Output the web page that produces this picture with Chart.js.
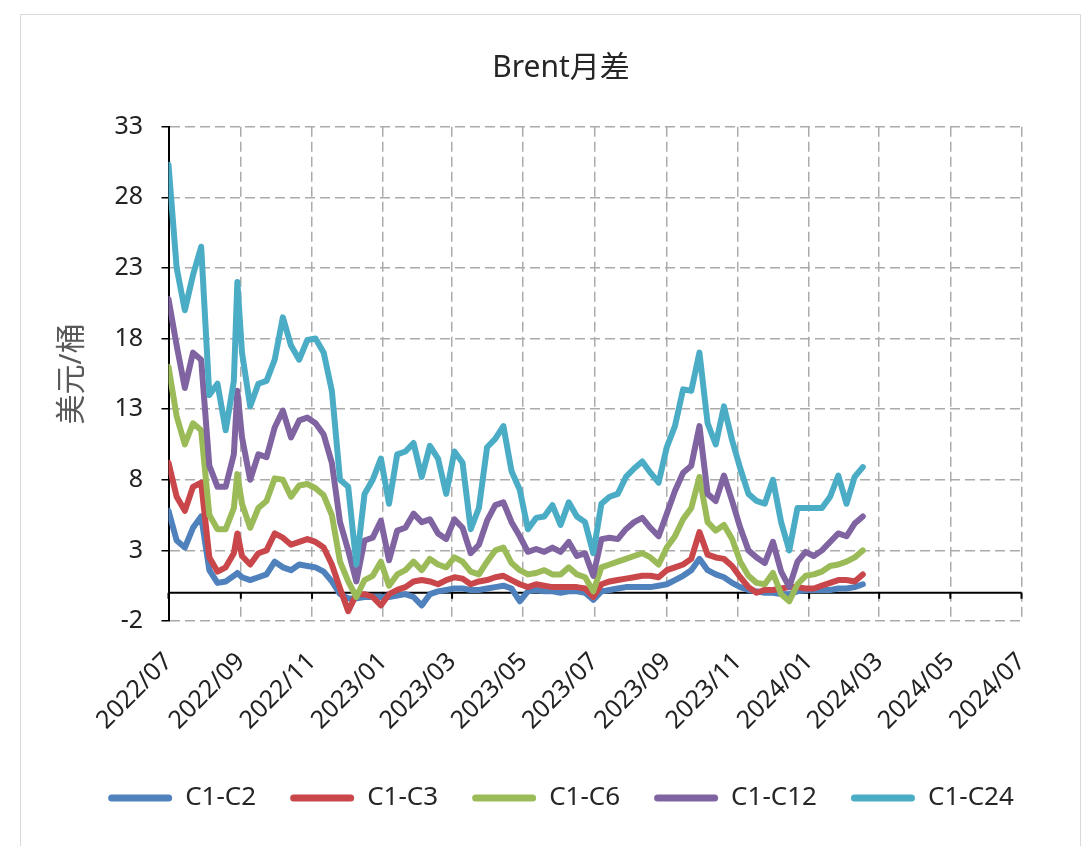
<!DOCTYPE html>
<html>
<head>
<meta charset="utf-8">
<script src="https://cdn.jsdelivr.net/npm/chart.js@4.4.1/dist/chart.umd.min.js"></script>
<style>
    html, body { margin: 0; padding: 0; background: #fff; }
    #frame {
        position: absolute; left: 20px; top: 14px; width: 1059px; height: 840px;
        border: 1px solid #d9d9d9;
    }
    #spreadChart { position: absolute; left: 0; top: 0; }
</style>
</head>
<body>
<div id="frame"></div>
<canvas id="spreadChart" width="1089" height="846"></canvas>
<script>

// =======================
// Data (weekly readings)
// =======================

const tickLabels = [
    "2022/07","2022/09","2022/11","2023/01","2023/03","2023/05","2023/07",
    "2023/09","2023/11","2024/01","2024/03","2024/05","2024/07"
];

const yTickValues = [-2, 3, 8, 13, 18, 23, 28, 33];

const seriesNames = ["C1-C2", "C1-C3", "C1-C6", "C1-C12", "C1-C24"];

const seriesColors = ["#4f81bd", "#c9474a", "#9bbb59", "#8064a2", "#4bacc6"];

const dates = [
    "2022-07-01","2022-07-08","2022-07-15","2022-07-22","2022-07-29",
    "2022-08-05","2022-08-12","2022-08-19","2022-08-26","2022-08-29",
    "2022-09-02","2022-09-09","2022-09-16","2022-09-23","2022-09-30",
    "2022-10-07","2022-10-14","2022-10-21","2022-10-28",
    "2022-11-04","2022-11-11","2022-11-18","2022-11-25",
    "2022-12-02","2022-12-09","2022-12-16","2022-12-23","2022-12-30",
    "2023-01-06","2023-01-13","2023-01-20","2023-01-27",
    "2023-02-03","2023-02-10","2023-02-17","2023-02-24",
    "2023-03-03","2023-03-10","2023-03-17","2023-03-24","2023-03-31",
    "2023-04-07","2023-04-14","2023-04-21","2023-04-28",
    "2023-05-05","2023-05-12","2023-05-19","2023-05-26",
    "2023-06-02","2023-06-09","2023-06-16","2023-06-23","2023-06-30",
    "2023-07-07","2023-07-14","2023-07-21","2023-07-28",
    "2023-08-04","2023-08-11","2023-08-18","2023-08-25",
    "2023-09-01","2023-09-08","2023-09-15","2023-09-22","2023-09-29",
    "2023-10-06","2023-10-13","2023-10-20","2023-10-27",
    "2023-11-03","2023-11-10","2023-11-17","2023-11-24",
    "2023-12-01","2023-12-08","2023-12-15","2023-12-22","2023-12-29",
    "2024-01-05","2024-01-12","2024-01-19","2024-01-26",
    "2024-02-02","2024-02-09","2024-02-16"
];

const c1c2 = [
    5.8,3.7,3.2,4.6,5.4, 1.6,0.7,0.8,1.2,1.4,
    1.1,0.9,1.1,1.3,2.2, 1.8,1.6,2.0,1.9,
    1.8,1.5,0.8,-0.1, -0.4,-0.4,-0.3,-0.3,-0.3,
    -0.3,-0.2,-0.1,-0.3, -0.9,-0.1,0.1,0.2,
    0.3,0.3,0.2,0.2,0.3, 0.4,0.5,0.3,-0.6,
    0.1,0.2,0.1,0.1, 0.0,0.1,0.1,0.0,-0.5,
    0.1,0.2,0.3,0.4, 0.4,0.4,0.4,0.5,
    0.6,0.9,1.2,1.6,2.4, 1.6,1.3,1.1,0.7,
    0.4,0.2,0.1,0.0, 0.0,-0.1,-0.1,0.1,0.2,
    0.2,0.2,0.2,0.3, 0.3,0.4,0.6
];

const c1c3 = [
    9.2,6.8,5.8,7.5,7.8, 2.5,1.5,1.8,2.8,4.2,
    2.6,2.0,2.8,3.0,4.2, 3.9,3.4,3.6,3.8,
    3.6,3.2,2.0,0.3, -1.3,-0.1,-0.1,-0.3,-0.9,
    -0.1,0.2,0.4,0.8, 0.9,0.8,0.6,0.9,
    1.1,1.0,0.6,0.8,0.9, 1.1,1.2,0.9,0.6,
    0.4,0.6,0.5,0.4, 0.4,0.4,0.4,0.3,-0.3,
    0.6,0.8,0.9,1.0, 1.1,1.2,1.2,1.1,
    1.6,1.8,2.0,2.4,4.3, 2.7,2.5,2.4,1.9,
    1.1,0.4,0.0,0.2, 0.2,0.3,0.4,0.4,0.3,
    0.3,0.5,0.7,0.9, 0.9,0.8,1.3
];

const c1c6 = [
    16.0,12.5,10.5,12.0,11.5, 5.5,4.5,4.5,6.0,8.4,
    6.3,4.6,6.0,6.5,8.1, 8.0,6.8,7.6,7.7,
    7.4,6.9,5.5,2.2, 0.8,-0.3,0.9,1.2,2.2,
    0.5,1.3,1.6,2.2, 1.6,2.4,2.0,1.8,
    2.5,2.2,1.5,1.3,2.2, 3.0,3.2,2.1,1.6,
    1.3,1.4,1.6,1.3, 1.3,1.8,1.3,1.1,0.1,
    1.8,2.0,2.2,2.4, 2.6,2.8,2.5,2.0,
    3.2,4.0,5.2,6.0,8.2, 5.0,4.4,4.8,3.8,
    2.2,1.2,0.7,0.6, 1.4,-0.1,-0.6,0.6,1.2,
    1.3,1.5,1.9,2.0, 2.2,2.5,3.0
];

const c1c12 = [
    20.8,17.5,14.5,17.0,16.5, 9.0,7.5,7.5,9.8,14.3,
    11.0,8.0,9.8,9.6,11.7, 12.9,11.0,12.2,12.4,
    12.0,11.2,9.2,5.0, 3.0,0.8,3.7,3.9,5.1,
    2.3,4.4,4.6,5.6, 5.0,5.2,4.2,3.8,
    5.2,4.6,2.8,3.4,5.1, 6.2,6.4,5.0,4.0,
    2.9,3.1,2.9,3.2, 2.9,3.6,2.6,2.8,1.2,
    3.8,3.9,3.8,4.5, 5.0,5.3,4.6,4.0,
    5.6,7.2,8.5,9.0,11.8, 7.0,6.5,8.3,6.5,
    4.6,3.0,2.5,2.1, 3.6,1.5,0.4,2.2,2.9,
    2.6,3.0,3.6,4.2, 4.0,4.9,5.4
];

const c1c24 = [
    30.3,23.0,20.0,22.5,24.5, 14.0,14.8,11.5,15.0,22.0,
    17.0,13.2,14.8,15.0,16.5, 19.5,17.5,16.5,17.9,
    18.0,17.0,14.3,8.0, 7.5,2.0,7.0,8.0,9.5,
    6.3,9.8,10.0,10.6, 8.2,10.4,9.5,7.0,
    10.0,9.2,4.5,6.0,10.3, 10.9,11.8,8.6,7.3,
    4.5,5.3,5.4,6.2, 4.8,6.4,5.4,5.0,2.8,
    6.3,6.8,7.0,8.2, 8.8,9.3,8.5,7.8,
    10.3,11.8,14.4,14.3,17.0, 12.0,10.5,13.2,10.8,
    8.8,7.0,6.5,6.3, 8.0,5.0,3.0,6.0,6.0,
    6.0,6.0,6.8,8.3, 6.3,8.2,8.9
];

const seriesValues = [c1c2, c1c3, c1c6, c1c12, c1c24];

// =======================
// Helpers
// =======================

const baseDay = Date.UTC(2022, 6, 1);

function dayOf(text) {
    const p = text.split(/[-\/]/).map(Number);
    return (Date.UTC(p[0], p[1] - 1, p[2] || 1) - baseDay) / 86400000;
}

const xValues = dates.map(dayOf);

const fontFamily = '"Noto Sans", "Noto Sans CJK SC", sans-serif';

// zero line with its small tick marks, as in the original
const zeroAxis = {
    id: "zeroAxis",
    beforeDatasetsDraw(chart) {
        const { ctx, chartArea, scales } = chart;
        const y0 = scales.y.getPixelForValue(0);
        ctx.save();
        ctx.strokeStyle = "#000";
        ctx.lineWidth = 2;
        ctx.beginPath();
        ctx.moveTo(chartArea.left, y0);
        ctx.lineTo(chartArea.right, y0);
        scales.x.ticks.forEach(t => {
            const px = scales.x.getPixelForValue(t.value);
            ctx.moveTo(px, y0);
            ctx.lineTo(px, y0 + 6);
        });
        ctx.stroke();
        ctx.restore();
    }
};

// =======================
// Chart
// =======================

const canvas = document.getElementById("spreadChart");

new Chart(canvas, {

    type: "line",

    data: {
        datasets: seriesNames.map((name, i) => ({
            label: name,
            data: seriesValues[i].map((v, j) => ({ x: xValues[j], y: v })),
            borderColor: seriesColors[i],
            backgroundColor: seriesColors[i],
            borderWidth: 6,
            borderJoinStyle: "round",
            borderCapStyle: "round",
            pointRadius: 0,
            tension: 0,
            order: seriesNames.length - i
        }))
    },

    options: {
        responsive: false,
        animation: false,
        events: [],
        layout: {
            padding: { left: 40, right: 7, top: 0, bottom: 25 }
        },
        font: { family: fontFamily },
        scales: {
            x: {
                type: "linear",
                min: dayOf(tickLabels[0]),
                max: dayOf(tickLabels[tickLabels.length - 1]),
                afterBuildTicks: scale => {
                    scale.ticks = tickLabels.map(l => ({ value: dayOf(l) }));
                },
                afterFit: scale => { scale.height = 130; },
                ticks: {
                    autoSkip: false,
                    minRotation: 45,
                    maxRotation: 45,
                    padding: 26,
                    color: "#222",
                    font: { family: fontFamily, size: 25 },
                    callback: (value, index) => tickLabels[index]
                },
                grid: {
                    color: "#ababab",
                    lineWidth: 1.5,
                    drawTicks: false
                },
                border: { display: false, dash: [10, 5] }
            },
            y: {
                min: -2,
                max: 33,
                afterBuildTicks: scale => {
                    scale.ticks = yTickValues.map(v => ({ value: v }));
                },
                afterFit: scale => { scale.width = 128.5; },
                ticks: {
                    padding: 18.5,
                    color: "#222",
                    font: { family: fontFamily, size: 25 }
                },
                grid: {
                    color: "#ababab",
                    lineWidth: 1.5,
                    tickLength: 7,
                    tickColor: "#000",
                    tickWidth: 1.5
                },
                border: { display: true, color: "#000", width: 2, dash: [10, 5] },
                title: {
                    display: true,
                    text: "美元/桶",
                    color: "#595959",
                    font: { family: fontFamily, size: 30 },
                    padding: { top: 14, bottom: 0 }
                }
            },
            // empty right-hand spacer so the plot ends at 2024/07
            spacer: {
                type: "linear",
                position: "right",
                display: true,
                afterFit: scale => { scale.width = 60.5; },
                ticks: { display: false },
                grid: { display: false },
                border: { display: false }
            }
        },
        plugins: {
            title: {
                display: true,
                text: "Brent月差",
                color: "#262626",
                font: { family: fontFamily, size: 30, weight: "normal" },
                padding: { top: 50, bottom: 40.7 }
            },
            legend: {
                position: "bottom",
                labels: {
                    color: "#262626",
                    font: { family: fontFamily, size: 26 },
                    boxWidth: 64,
                    boxHeight: 7,
                    padding: 34,
                    useBorderRadius: true,
                    borderRadius: 3.5,
                    sort: (a, b) => a.datasetIndex - b.datasetIndex,
                    generateLabels: chart =>
                        Chart.defaults.plugins.legend.labels.generateLabels(chart)
                            .map(item => ({ ...item, lineWidth: 0 }))
                }
            },
            tooltip: { enabled: false }
        }
    },

    plugins: [zeroAxis]

});

</script>
</body>
</html>
